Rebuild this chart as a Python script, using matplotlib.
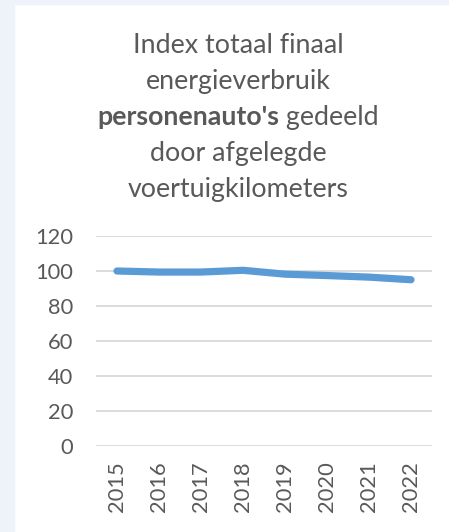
import matplotlib
matplotlib.use("Agg")
import matplotlib.pyplot as plt
from matplotlib.patches import Rectangle

years = ["2015", "2016", "2017", "2018", "2019", "2020", "2021", "2022"]
index_values = [100.0, 99.4, 99.4, 100.4, 98.2, 97.4, 96.5, 95.0]
y_ticks = [0, 20, 40, 60, 80, 100, 120]

W, H = 449, 532
fig = plt.figure(figsize=(W / 100, H / 100), dpi=100)
fig.patch.set_facecolor("white")
r = fig.canvas.get_renderer()

bg = "#eef2f9"
fig.patches.append(Rectangle((0, 0), 14 / W, 1, transform=fig.transFigure, color=bg, zorder=0))
fig.patches.append(Rectangle((0, 1 - 4 / H), 1, 4 / H, transform=fig.transFigure, color=bg, zorder=0))

def fit_size(s, target_px, weight="normal"):
    t = fig.text(0, 0, s, fontsize=20, family="Lato", weight=weight)
    w = t.get_window_extent(r).width
    t.remove()
    return 20 * target_px / w

tick_fs = fit_size("120", 38)

ax = fig.add_axes([96 / W, 1 - 446 / H, (432 - 96) / W, (446 - 236) / H])
x = list(range(len(years)))
ax.plot(x, index_values, color="#5b9bd5", lw=5.2, solid_capstyle="round", solid_joinstyle="round", zorder=3)
ax.set_xlim(-0.5, len(years) - 0.5)
ax.set_ylim(0, 120)
ax.set_yticks(y_ticks)
ax.set_xticks(x)
ax.set_xticklabels(years, rotation=90)
ax.grid(axis="y", color="#d9d9d9", lw=1.3)
ax.set_axisbelow(True)
for s in ax.spines.values():
    s.set_visible(False)
ax.tick_params(length=0, labelsize=tick_fs, labelcolor="#595959")
for lab in ax.get_yticklabels() + ax.get_xticklabels():
    lab.set_fontfamily("Lato")
ax.tick_params(axis="y", pad=16.5)
ax.tick_params(axis="x", pad=11)

tc = "#595959"
fs = fit_size("Index totaal finaal", 210)
cx = 238 / W
base = [53, 89, 125, 161, 197]
fig.text(cx, 1 - base[0] / H, "Index totaal finaal", ha="center", va="baseline", fontsize=fs, color=tc, family="Lato")
fig.text(cx, 1 - base[1] / H, "energieverbruik", ha="center", va="baseline", fontsize=fs, color=tc, family="Lato")
t1 = fig.text(0, 1 - base[2] / H, "personenauto's", fontsize=fs, color=tc, family="Lato", weight="bold", va="baseline")
t2 = fig.text(0, 1 - base[2] / H, " gedeeld", fontsize=fs, color=tc, family="Lato", va="baseline")
w1 = t1.get_window_extent(r).width
w2 = t2.get_window_extent(r).width
start = 238 - (w1 + w2) / 2
t1.set_x(start / W)
t2.set_x((start + w1) / W)
fig.text(cx, 1 - base[3] / H, "door afgelegde", ha="center", va="baseline", fontsize=fs, color=tc, family="Lato")
fig.text(cx, 1 - base[4] / H, "voertuigkilometers", ha="center", va="baseline", fontsize=fs, color=tc, family="Lato")

fig.savefig("out.png", dpi=100, facecolor="white")
